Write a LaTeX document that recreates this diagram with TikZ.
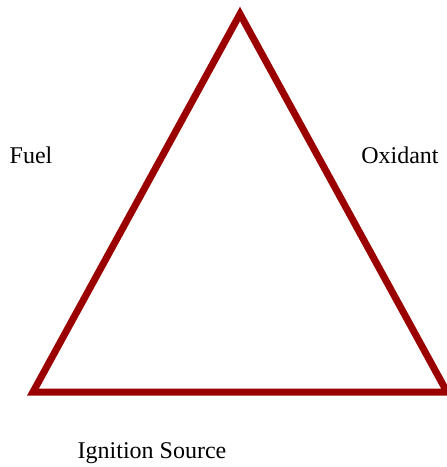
\documentclass[tikz,border=0pt]{standalone}
\usepackage{fontspec}
\setmainfont{Liberation Serif}
\usetikzlibrary{positioning}
\definecolor{firered}{RGB}{155,0,0}

\begin{document}
\begin{tikzpicture}[
      x=1pt, y=-1pt,
      side/.style={draw=firered, line width=7pt, miter limit=20},
      lbl/.style={font=\fontsize{24}{28}\selectfont, inner sep=0pt}
    ]
    \useasboundingbox (0,0) rectangle (447,467);
    \clip (0,0) rectangle (447,467);
    \coordinate (top)   at (240,14);
    \coordinate (left)  at (33,392);
    \coordinate (right) at (447,392);

    \draw[side] (top) -- (left) -- (right) -- cycle;

    \node[lbl] (fuel)     at (31,155)  {Fuel};
    \node[lbl] (oxidant)  at (400,155) {Oxidant};
    \node[lbl] (ignition) at (152,453) {Ignition Source};
  \end{tikzpicture}
\end{document}
